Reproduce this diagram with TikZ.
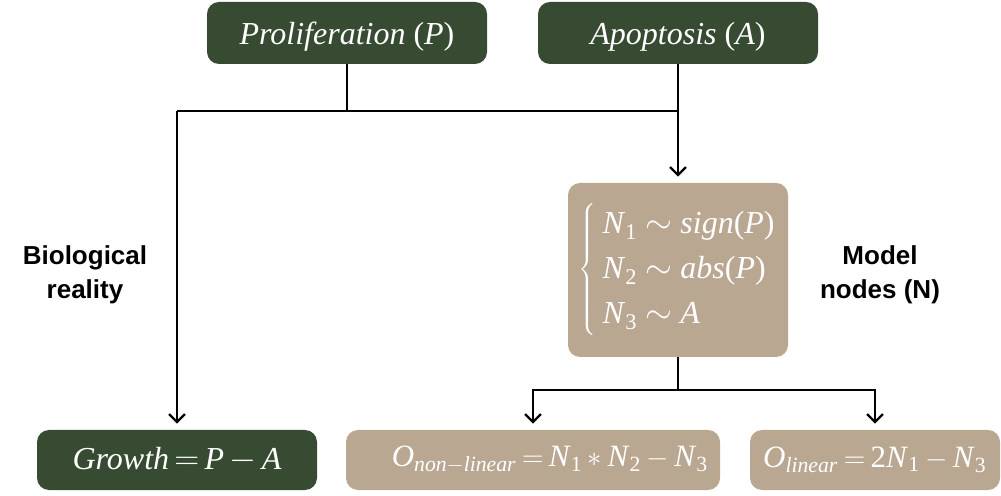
\documentclass[tikz,border=0pt]{standalone}
\usepackage{fontspec}
\setmainfont{Liberation Serif}
\newfontfamily\lblfont{Liberation Sans}
\usetikzlibrary{arrows.meta}
\definecolor{dkgreen}{RGB}{55,75,50}
\definecolor{tanbox}{RGB}{185,167,146}
\newcommand\sbs[1]{\textsubscript{\upshape #1}}
\newcommand\tEq{\,$=$\,}
\newcommand\tMin{\,$-$\,}
\tikzset{
  boxbase/.style={rounded corners=6pt, inner sep=0pt, text=white, align=center,
    font=\fontsize{16}{22.5}\selectfont},
  dark/.style={boxbase, fill=dkgreen},
  light/.style={boxbase, fill=tanbox},
  topbox/.style={dark, minimum width=140pt, minimum height=31pt, text height=14pt, text depth=2pt},
  conn/.style={line width=1.1pt, draw=black},
  arr/.style={conn, -{Straight Barb[length=4pt,width=8pt,line width=1.1pt]}, shorten >=3pt},
  lbl/.style={font=\lblfont\bfseries\fontsize{13}{17}\selectfont, align=center}
}
\begin{document}
\begin{tikzpicture}[x=0.5pt,y=-0.5pt]
\useasboundingbox (0,0) rectangle (1001,496);
\node[topbox] (prolif) at (347,33)
  {\textit{Proliferation} (\textit{P})};
\node[topbox] (apop) at (678,33)
  {\textit{Apoptosis} (\textit{A})};
\node[light, minimum width=110pt, minimum height=87pt] (nbox) at (678,270)
  {$\left\{\,\vcenter{\hbox{\begin{tabular}{@{}l@{}}
   \textit{N}\sbs{1} $\sim$ \textit{sign}(\textit{P})\\
   \textit{N}\sbs{2} $\sim$ \textit{abs}(\textit{P})\\
   \textit{N}\sbs{3} $\sim$ \textit{A}\end{tabular}}}\right.$};
\node[dark, minimum width=140pt, minimum height=30pt] (growth) at (177,460)
  {\textit{Growth}\tEq\textit{P}\tMin\textit{A}};
\node[light, minimum width=187pt, minimum height=30pt, font=\fontsize{15.5}{20}\selectfont] (nonlin) at (533,460)
  {\hspace*{17pt}\textit{O}\textsubscript{\itshape non$-$linear}\tEq\textit{N}\sbs{1}\,$*$\,\textit{N}\sbs{2}\tMin\textit{N}\sbs{3}};
\node[light, minimum width=125pt, minimum height=30pt, font=\fontsize{15.5}{20}\selectfont] (lin) at (875,460)
  {\textit{O}\textsubscript{\itshape linear}\tEq 2\textit{N}\sbs{1}\tMin\textit{N}\sbs{3}};
\node[lbl] (bio) at (85,275) {Biological\\reality};
\node[lbl] (model) at (880,275) {Model\\nodes (N)};
\coordinate (j1) at (177,111);
\draw[conn] (prolif.south) -- (prolif.south |- j1);
\draw[conn] (j1) -- (apop.south |- j1);
\draw[arr] (apop.south) -- (nbox.north);
\draw[arr] (j1) -- (growth.north);
\draw[arr] (nbox.south) -- ++(0,33) -| (nonlin.north);
\draw[arr] (nbox.south) -- ++(0,33) -| (lin.north);
\end{tikzpicture}
\end{document}
